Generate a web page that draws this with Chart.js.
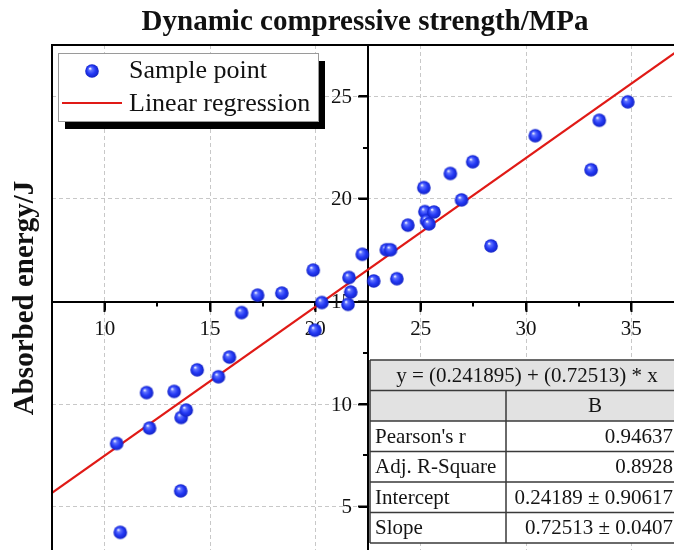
<!DOCTYPE html>
<html>
<head>
<meta charset="utf-8">
<title>Absorbed energy vs dynamic compressive strength</title>
<script src="https://cdn.jsdelivr.net/npm/chart.js@4.4.1/dist/chart.umd.min.js"></script>
<style>
  html, body { margin: 0; padding: 0; background: #fff; overflow: hidden; }
  #wrap { width: 674px; height: 550px; overflow: hidden; position: relative; }
  canvas { display: block; }
</style>
</head>
<body>
<div id="wrap"><canvas id="chart" width="720" height="580"></canvas></div>
<script>
// Measured samples: dynamic compressive strength (MPa) and absorbed energy (J)
const strengthMPa = [10.57, 10.74, 11.99, 12.13, 13.30, 13.61, 13.63, 13.87, 14.39, 15.40,
                     15.92, 16.50, 17.26, 18.41, 19.90, 19.98, 20.31, 21.55, 21.60, 21.68,
                     22.23, 22.77, 23.37, 23.57, 23.87, 24.39, 25.15, 25.20, 25.28, 25.39,
                     25.63, 26.41, 26.94, 27.47, 28.34, 30.44, 33.09, 33.48, 34.83];
const energyJ     = [8.08, 3.75, 10.56, 8.83, 10.62, 5.77, 9.35, 9.71, 11.67, 11.33,
                     12.29, 14.46, 15.31, 15.41, 16.53, 13.60, 14.95, 14.86, 16.17, 15.46,
                     17.30, 16.00, 17.52, 17.52, 16.11, 18.72, 20.55, 19.38, 18.94, 18.78,
                     19.36, 21.24, 19.95, 21.81, 17.71, 23.08, 21.42, 23.83, 24.73];

// Axis ranges and ticks
const xRange = [7.5, 37.5];
const yRange = [2.5, 27.5];
const xCross = 22.5;   // where the vertical axis crosses
const yCross = 15;     // where the horizontal axis crosses
const xTicks = [10, 15, 20, 25, 30, 35];
const xMinorTicks = [12.5, 17.5, 22.5, 27.5, 32.5];
const yTicks = [5, 10, 15, 20, 25];
const yMinorTicks = [7.5, 12.5, 17.5, 22.5];

// Linear fit results
const fitIntercept = 0.241895;
const fitSlope = 0.72513;
const statsHeader = 'y = (0.241895) + (0.72513) * x';
const statsColumn = 'B';
const statsNames  = ["Pearson's r", 'Adj. R-Square', 'Intercept', 'Slope'];
const statsValues = ['0.94637', '0.8928', '0.24189 \u00b1 0.90617', '0.72513 \u00b1 0.0407'];

const xTitle = 'Dynamic compressive strength/MPa';
const yTitle = 'Absorbed energy/J';
const seriesNames = ['Sample point', 'Linear regression'];

const SERIF = '"Liberation Serif", "Times New Roman", serif';
const RED = '#e01a16';
const TICK_LEN = 9;
const MINOR_LEN = 5;

// Shaded blue sphere used as point marker
function makeSphere(r) {
  const size = Math.ceil(r * 2 + 2);
  const c = document.createElement('canvas');
  c.width = c.height = size;
  const g = c.getContext('2d');
  const cx = size / 2, cy = size / 2;
  const grad = g.createRadialGradient(cx - r * 0.3, cy - r * 0.38, r * 0.05, cx, cy, r);
  grad.addColorStop(0, '#f4f6ff');
  grad.addColorStop(0.22, '#6073ff');
  grad.addColorStop(0.6, '#2439f5');
  grad.addColorStop(1, '#1222c4');
  g.fillStyle = grad;
  g.beginPath();
  g.arc(cx, cy, r, 0, Math.PI * 2);
  g.fill();
  return c;
}
const sphere = makeSphere(6.8);

const points = strengthMPa.map((x, i) => ({ x, y: energyJ[i] }));
const fitLine = xRange.map(x => ({ x, y: fitIntercept + fitSlope * x }));

// Tick marks, y tick labels, frame, legend, statistics table and titles
const decorations = {
  id: 'decorations',
  beforeDatasetsDraw(chart) {
    const { ctx } = chart;
    const xs = chart.scales.x, ys = chart.scales.y;
    const ax = ys.getPixelForValue(yCross);
    const ay = xs.getPixelForValue(xCross);
    ctx.save();
    ctx.strokeStyle = '#000';
    ctx.lineWidth = 2;
    ctx.beginPath();
    // ticks below the horizontal axis
    xs.ticks.forEach(t => {
      const px = Math.round(xs.getPixelForValue(t.value));
      ctx.moveTo(px, ax);
      ctx.lineTo(px, ax + TICK_LEN);
    });
    xMinorTicks.forEach(v => {
      const px = Math.round(xs.getPixelForValue(v));
      ctx.moveTo(px, ax);
      ctx.lineTo(px, ax + MINOR_LEN);
    });
    // ticks left of the vertical axis
    ys.ticks.forEach(t => {
      const py = Math.round(ys.getPixelForValue(t.value));
      ctx.moveTo(ay, py);
      ctx.lineTo(ay - TICK_LEN, py);
    });
    yMinorTicks.forEach(v => {
      const py = Math.round(ys.getPixelForValue(v));
      ctx.moveTo(ay, py);
      ctx.lineTo(ay - MINOR_LEN, py);
    });
    ctx.stroke();

    // vertical axis labels sit left of its tick marks
    ctx.fillStyle = '#111';
    ctx.font = '21px ' + SERIF;
    ctx.textAlign = 'right';
    ctx.textBaseline = 'middle';
    ys.ticks.forEach(t => {
      ctx.fillText(String(t.label ?? t.value), ay - TICK_LEN - 7, ys.getPixelForValue(t.value) + 1);
    });
    ctx.restore();
  },
  afterDatasetsDraw(chart) {
    const { ctx, chartArea: a } = chart;
    ctx.save();

    // statistics table
    const tLeft = 370, tRight = a.right, tDiv = 506;
    const rowTop = 360, rowH = 30.5;
    const rows = 2 + statsNames.length;
    ctx.fillStyle = '#ffffff';
    ctx.fillRect(tLeft, rowTop, tRight - tLeft, rowH * rows);
    ctx.fillStyle = '#e2e2e2';
    ctx.fillRect(tLeft, rowTop, tRight - tLeft, rowH * 2);
    ctx.strokeStyle = '#3a3a3a';
    ctx.lineWidth = 1.5;
    ctx.beginPath();
    for (let i = 0; i <= rows; i++) {
      const y = rowTop + i * rowH;
      ctx.moveTo(tLeft, y);
      ctx.lineTo(tRight, y);
    }
    ctx.moveTo(tLeft, rowTop);
    ctx.lineTo(tLeft, rowTop + rows * rowH);
    ctx.moveTo(tDiv, rowTop + rowH);
    ctx.lineTo(tDiv, rowTop + rows * rowH);
    ctx.stroke();
    ctx.fillStyle = '#141414';
    ctx.font = '21px ' + SERIF;
    ctx.textBaseline = 'middle';
    ctx.textAlign = 'center';
    ctx.fillText(statsHeader, (tLeft + tRight) / 2, rowTop + rowH / 2 + 1);
    ctx.fillText(statsColumn, (tDiv + tRight) / 2, rowTop + rowH * 1.5 + 1);
    statsNames.forEach((name, i) => {
      const y = rowTop + rowH * (i + 2.5) + 1;
      ctx.textAlign = 'left';
      ctx.fillText(name, tLeft + 5, y);
      ctx.textAlign = 'right';
      ctx.fillText(statsValues[i], tRight - 11, y);
    });

    // legend with drop shadow
    const lx = 58, ly = 53, lw = 260, lh = 68;
    ctx.fillStyle = '#000';
    ctx.fillRect(lx + 7, ly + 8, lw, lh);
    ctx.fillStyle = '#fff';
    ctx.fillRect(lx, ly, lw, lh);
    ctx.strokeStyle = '#9a9a9a';
    ctx.lineWidth = 1;
    ctx.strokeRect(lx + 0.5, ly + 0.5, lw, lh);
    ctx.drawImage(sphere, 92 - sphere.width / 2, 71 - sphere.height / 2);
    ctx.strokeStyle = RED;
    ctx.lineWidth = 2.2;
    ctx.beginPath();
    ctx.moveTo(62, 103);
    ctx.lineTo(122, 103);
    ctx.stroke();
    ctx.fillStyle = '#111';
    ctx.font = '26px ' + SERIF;
    ctx.textAlign = 'left';
    ctx.textBaseline = 'middle';
    ctx.fillText(seriesNames[0], 129, 71);
    ctx.fillText(seriesNames[1], 129, 104);

    // frame round the plot area
    ctx.strokeStyle = '#000';
    ctx.lineWidth = 2;
    ctx.strokeRect(a.left, a.top, a.right - a.left, a.bottom - a.top);

    // axis titles
    ctx.fillStyle = '#111';
    ctx.font = 'bold 29px ' + SERIF;
    ctx.textAlign = 'center';
    ctx.textBaseline = 'middle';
    ctx.fillText(xTitle, 365, 23);
    ctx.translate(26, 298);
    ctx.rotate(-Math.PI / 2);
    ctx.fillText(yTitle, 0, 0);
    ctx.restore();
  }
};

const axisCommon = {
  type: 'linear',
  grid: {
    color: '#c8c8c8',
    lineWidth: 1,
    drawTicks: true,
    tickLength: TICK_LEN,
    tickColor: '#000',
    tickWidth: 2,
    tickBorderDash: []
  },
  border: { display: true, color: '#000', width: 2, dash: [4, 3] },
  title: { display: false }
};

new Chart(document.getElementById('chart'), {
  type: 'scatter',
  data: {
    datasets: [
      {
        label: seriesNames[0],
        data: points,
        pointStyle: sphere,
        pointRadius: 6.8,
        pointHoverRadius: 6.8
      },
      {
        type: 'line',
        label: seriesNames[1],
        data: fitLine,
        borderColor: RED,
        borderWidth: 2.2,
        pointRadius: 0,
        fill: false
      }
    ]
  },
  options: {
    responsive: false,
    animation: false,
    devicePixelRatio: 1,
    layout: { padding: { left: 52, top: 45, right: 36, bottom: 22 } },
    plugins: { legend: { display: false }, tooltip: { enabled: false }, title: { display: false } },
    scales: {
      x: Object.assign({}, axisCommon, {
        min: xRange[0], max: xRange[1],
        position: { y: yCross },
        afterBuildTicks: s => { s.ticks = xTicks.map(v => ({ value: v })); },
        ticks: { font: { family: SERIF, size: 21 }, color: '#111', padding: 6, maxRotation: 0, autoSkip: false }
      }),
      y: Object.assign({}, axisCommon, {
        min: yRange[0], max: yRange[1],
        position: { x: xCross },
        afterBuildTicks: s => { s.ticks = yTicks.map(v => ({ value: v })); },
        ticks: { display: false, font: { family: SERIF, size: 21 }, autoSkip: false }
      })
    }
  },
  plugins: [decorations]
});
</script>
</body>
</html>
